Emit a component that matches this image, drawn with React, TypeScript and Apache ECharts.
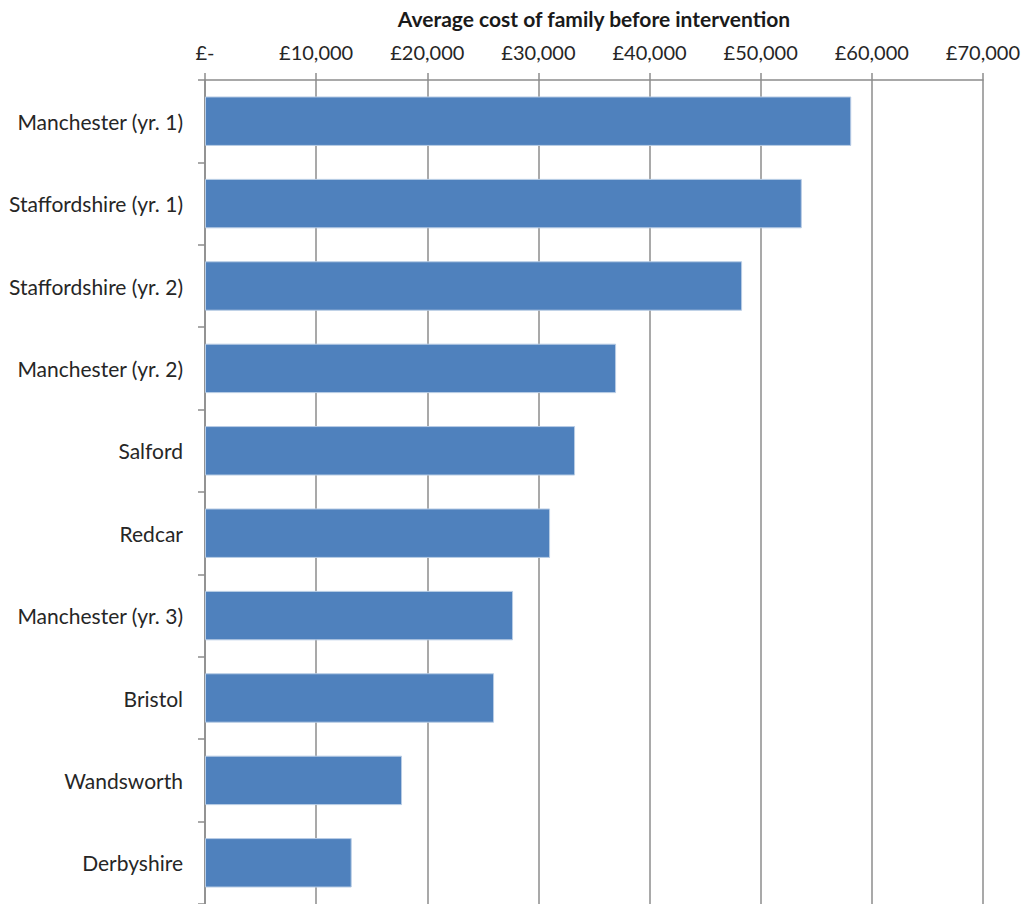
import React, { useEffect, useRef } from "react";
import * as echarts from "echarts";

const categories = [
  "Manchester (yr. 1)",
  "Staffordshire (yr. 1)",
  "Staffordshire (yr. 2)",
  "Manchester (yr. 2)",
  "Salford",
  "Redcar",
  "Manchester (yr. 3)",
  "Bristol",
  "Wandsworth",
  "Derbyshire",
];
const values = [58150, 53700, 48330, 36990, 33300, 31050, 27720, 26010, 17730, 13200];
const axisTitle = "Average cost of family before intervention";

function fmt(v: number): string {
  if (v === 0) return "£-";
  return "£" + v.toLocaleString("en-GB");
}

export default function App() {
  const ref = useRef<HTMLDivElement>(null);
  useEffect(() => {
    if (!ref.current) return;
    const chart = echarts.init(ref.current, undefined, { renderer: "svg" });
    const font = "Lato";
    chart.setOption({
      animation: false,
      backgroundColor: "#ffffff",
      grid: { left: 205, right: 40, top: 80, bottom: 0, containLabel: false },
      xAxis: {
        type: "value",
        position: "top",
        min: 0,
        max: 70000,
        interval: 10000,
        name: axisTitle,
        nameLocation: "middle",
        nameGap: 51,
        nameTextStyle: { fontFamily: font, fontSize: 21, fontWeight: "bold", color: "#1a1a1a" },
        axisLine: { show: true, lineStyle: { color: "#8c8c8c", width: 1.5 } },
        axisTick: { show: true, length: 7, lineStyle: { color: "#8c8c8c", width: 1.5 } },
        axisLabel: {
          formatter: (v: number) => fmt(v),
          fontFamily: font,
          fontSize: 20,
          color: "#262626",
          margin: 18,
        },
        splitLine: { show: true, lineStyle: { color: "#8c8c8c", width: 1.5 } },
      },
      yAxis: {
        type: "category",
        data: categories,
        inverse: true,
        axisLine: { show: true, lineStyle: { color: "#8c8c8c", width: 1.5 } },
        axisTick: { show: true, length: 7, lineStyle: { color: "#8c8c8c", width: 1.5 } },
        axisLabel: { fontFamily: font, fontSize: 21, color: "#262626", margin: 22 },
        splitLine: { show: false },
      },
      series: [
        {
          type: "bar",
          data: values,
          barCategoryGap: "40%",
          itemStyle: { color: "#4f81bd", borderColor: "#b9cde5", borderWidth: 1 },
        },
      ],
    });
    return () => chart.dispose();
  }, []);
  return (
    <div
      ref={ref}
      style={{ position: "fixed", left: 0, top: 0, width: 1023, height: 904 }}
    />
  );
}
